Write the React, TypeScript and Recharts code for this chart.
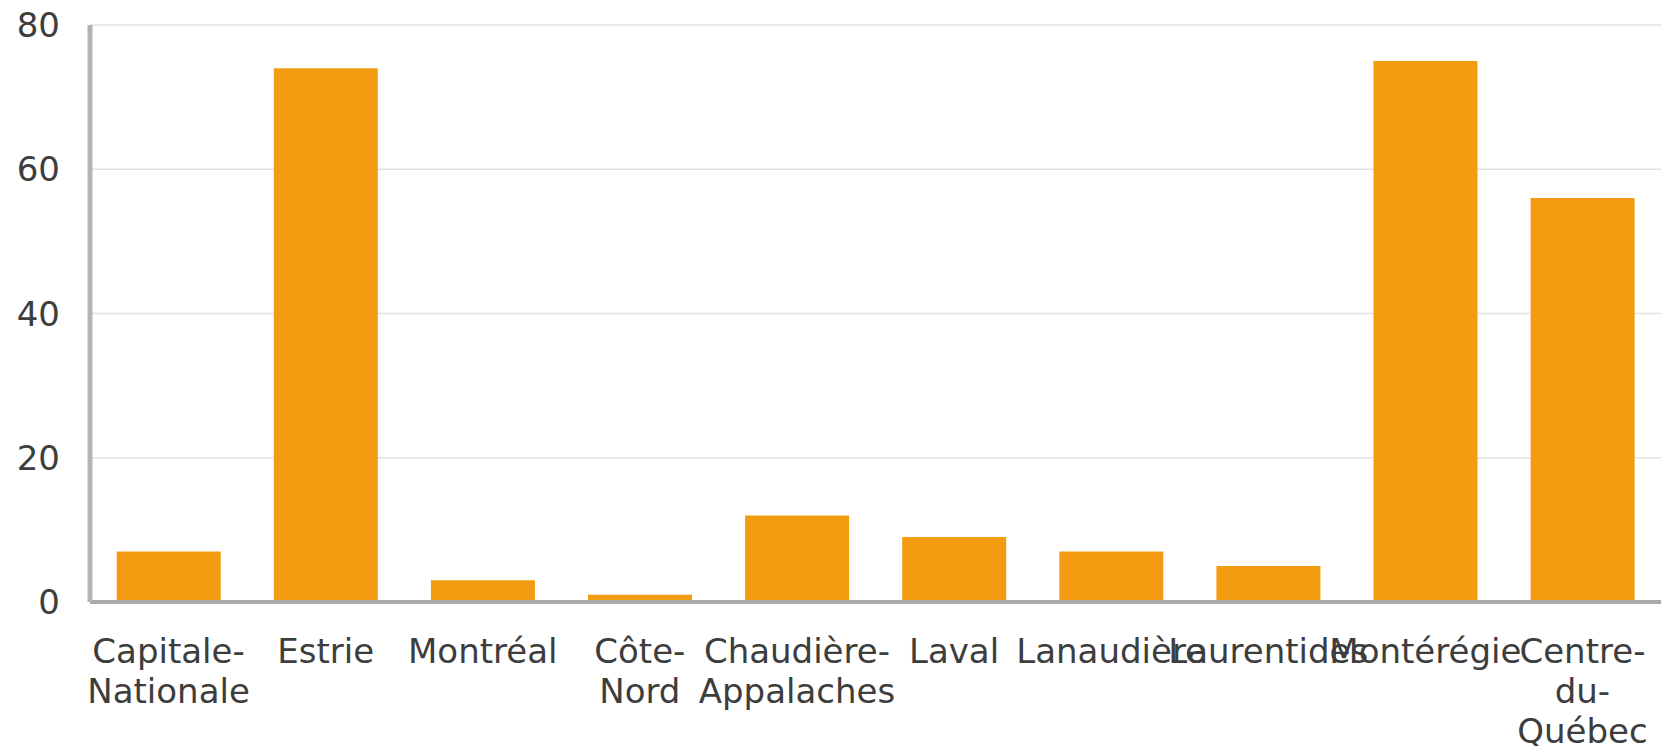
import { BarChart, Bar, XAxis, YAxis, CartesianGrid } from 'recharts'

const regions = [
  'Capitale-Nationale', 'Estrie', 'Montréal', 'Côte-Nord', 'Chaudière-Appalaches',
  'Laval', 'Lanaudière', 'Laurentides', 'Montérégie', 'Centre-du-Québec',
]
const values = [7, 74, 3, 1, 12, 9, 7, 5, 75, 56]
const yTicks = [0, 20, 40, 60, 80]

const data = regions.map((r, i) => ({ region: r, value: values[i] }))

const FONT = '"DejaVu Sans", sans-serif'
const TEXT = '#3d3d3d'

// split on hyphens, keeping the hyphen at the end of each line
function RegionTick({ x, y, payload }: { x: number; y: number; payload: { value: string } }) {
  const lines = String(payload.value).split(/(?<=-)/)
  return (
    <text x={x} y={y} textAnchor="middle" fill={TEXT} fontSize={34} fontFamily={FONT}>
      {lines.map((ln, i) => (
        <tspan key={i} x={x} dy={i === 0 ? 61 : 40}>{ln}</tspan>
      ))}
    </text>
  )
}

export default function App() {
  return (
    <div style={{ width: 1673, height: 746, overflow: 'hidden', background: '#fff' }}>
      <style>{'body{margin:0}'}</style>
      <BarChart
        width={1673}
        height={746}
        data={data}
        margin={{ top: 25, right: 12, left: 0, bottom: 0 }}
        barCategoryGap="17%"
      >
        <CartesianGrid vertical={false} stroke="#e2e2e2" strokeWidth={1.5} />
        <XAxis
          dataKey="region"
          height={144}
          interval={0}
          tickLine={false}
          tickSize={0}
          tickMargin={0}
          axisLine={{ stroke: '#aaaaaa', strokeWidth: 4 }}
          tick={RegionTick}
        />
        <YAxis
          width={90}
          domain={[0, 80]}
          ticks={yTicks}
          tickLine={false}
          tickSize={0}
          tickMargin={30}
          axisLine={{ stroke: '#b3b3b3', strokeWidth: 5 }}
          tick={{ fontSize: 34, fontFamily: FONT, fill: TEXT }}
        />
        <Bar dataKey="value" fill="#f39c12" isAnimationActive={false} />
      </BarChart>
    </div>
  )
}
